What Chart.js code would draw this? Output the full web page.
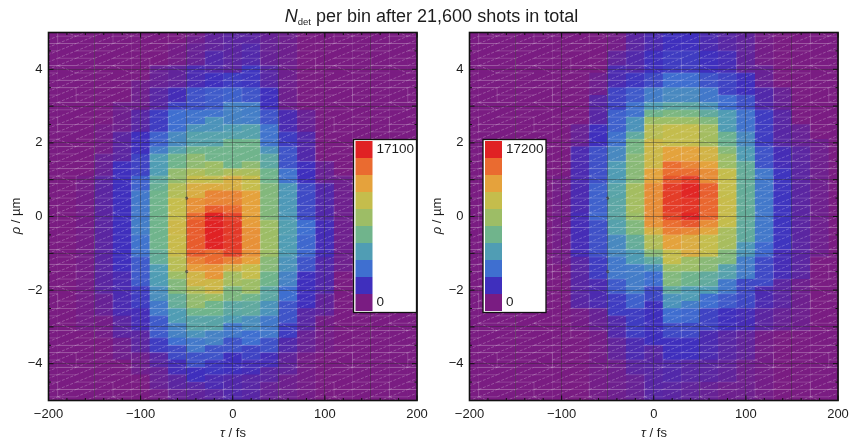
<!DOCTYPE html>
<html>
<head>
<meta charset="utf-8">
<title>Ndet per bin</title>
<script src="https://cdn.jsdelivr.net/npm/chart.js@4/dist/chart.umd.min.js"></script>
<style>
  body { margin: 0; background: #fff; font-family: "Liberation Sans", Arial, sans-serif; color: #1c1c1c; }
  #page { position: relative; width: 852px; height: 441px; overflow: hidden; }
  canvas { position: absolute; top: 0; }
  #chartLeft { left: 0; }
  #chartRight { left: 421px; }
  .lbl { position: absolute; white-space: nowrap; }
  #title { left: 0; width: 863px; top: 6px; text-align: center; font-size: 18px; line-height: 20px; }
  #title sub { font-size: 9.5px; line-height: 0; vertical-align: -3px; }
  .xlab { top: 426px; font-size: 13px; line-height: 14px; width: 60px; text-align: center; }
  .ylab { font-size: 13px; line-height: 14px; width: 60px; text-align: center; transform: rotate(-90deg); top: 209px; }
</style>
</head>
<body>
<div id="page">
  <canvas id="chartLeft" width="436" height="441"></canvas>
  <canvas id="chartRight" width="431" height="441"></canvas>
  <div class="lbl" id="title"><i>N</i><sub>det</sub> per bin after 21,600 shots in total</div>
  <div class="lbl xlab" style="left:203px"><i>τ</i> / fs</div>
  <div class="lbl xlab" style="left:624px"><i>τ</i> / fs</div>
  <div class="lbl ylab" style="left:-14px"><i>ρ</i> / µm</div>
  <div class="lbl ylab" style="left:407px"><i>ρ</i> / µm</div>
</div>
<script>
// bin centres
const tauValues = [-200,-180,-160,-140,-120,-100,-80,-60,-40,-20,0,20,40,60,80,100,120,140,160,180,200];
const rhoValues = [5,4.8,4.6,4.4,4.2,4,3.8,3.6,3.4,3.2,3,2.8,2.6,2.4,2.2,2,1.8,1.6,1.4,1.2,1,0.8,0.6,0.4,0.2,0,
  -0.2,-0.4,-0.6,-0.8,-1,-1.2,-1.4,-1.6,-1.8,-2,-2.2,-2.4,-2.6,-2.8,-3,-3.2,-3.4,-3.6,-3.8,-4,-4.2,-4.4,-4.6,-4.8,-5];

const xTickLabels = [-200,-100,0,100,200];
const yTickLabels = [-4,-2,0,2,4];

// colour bar swatches, lowest first
const barColors = ['#7a1c82','#3f2fbd','#3f6fd0','#509db4','#70b48c','#9dbd66','#c5bd4c','#e5a23c','#ea6b30','#e02224'];

const leftMax = 17100;
const rightMax = 17200;

// counts, in hundreds. One line per tau, top to bottom in rho
const leftCounts = [
  [0,0,0,0,0,0,0,0,0,0, 0,0,0,0,0,0,0,0,0,0, 0,0,0,0,0,0,0,0,0,0, 0,0,0,0,0,0,0,0,0,0, 0,0,0,0,0,0,0,0,0,0,0],
  [0,0,0,0,0,0,0,0,0,0, 0,0,0,0,0,0,0,0,0,0, 0,0,0,0,0,0,0,0,0,0, 0,0,0,0,0,0,0,0,0,0, 0,0,0,0,0,0,0,0,0,0,0],
  [0,0,0,0,0,0,0,0,0,0, 0,0,0,0,0,0,0,0,0,0, 2,2,2,2,2,2,2,2,2,2, 2,2,2,2,2,2,2,2,2,2, 2,0,0,0,0,0,0,0,0,0,0],
  [0,0,0,0,0,0,0,0,0,0, 0,0,0,2,2,2,2,6,6,6, 10,10,10,10,10,10,10,10,10,10, 10,10,10,10,10,10,6,6,6,2, 2,2,0,0,0,0,0,0,0,0,0],
  [0,0,0,0,0,0,0,0,0,0, 4,4,4,4,10,10,10,10,19,19, 19,19,19,19,19,19,19,19,19,19, 19,19,19,15,15,15,15,15,15,10, 10,10,4,4,4,0,0,0,0,0,0],
  [0,0,0,0,0,0,0,4,4,4, 4,11,11,11,19,19,19,25,25,25, 34,34,42,42,42,42,44,44,40,40, 40,32,32,32,32,23,23,23,17,17, 17,10,10,10,4,4,4,0,0,0,0],
  [0,0,0,0,0,6,6,6,11,11, 11,23,23,23,34,34,44,57,57,57, 67,72,76,76,76,76,76,76,76,76, 70,70,57,57,57,51,51,42,42,32, 32,32,23,23,11,11,6,6,6,2,2],
  [0,0,2,2,2,8,8,8,17,17, 25,38,38,38,49,49,61,76,76,91, 91,105,105,114,114,114,118,118,116,116, 116,108,108,95,84,84,70,70,57,57, 46,46,38,27,27,17,17,10,10,6,6],
  [2,4,6,6,6,15,15,15,29,29, 29,40,40,53,61,61,76,89,89,103, 114,125,125,139,139,152,156,156,156,156, 156,144,135,120,120,106,91,91,76,63, 63,53,42,42,29,29,19,19,11,8,8],
  [8,8,8,13,13,13,19,19,32,32, 32,40,53,53,61,61,76,76,95,95, 112,127,143,143,156,171,171,171,171,171, 152,152,137,137,118,118,95,76,76,63, 63,46,46,30,30,21,21,15,15,10,10],
  [10,10,10,10,10,10,23,23,34,34, 46,46,46,57,61,76,76,76,76,103, 124,124,143,143,152,162,165,165,165,165, 162,144,124,99,99,82,82,65,65,57, 42,42,30,30,19,19,19,13,13,13,13],
  [10,10,13,13,13,21,21,21,30,30, 44,44,44,61,61,76,76,76,89,101, 114,114,133,133,133,133,135,139,139,139, 139,133,114,114,95,95,76,67,67,51, 51,38,38,25,25,17,17,11,11,11,11],
  [6,6,6,6,6,11,11,11,19,19, 19,30,30,40,40,40,53,65,65,76, 76,84,84,84,84,84,95,95,95,95, 95,86,86,76,76,65,65,53,53,42, 42,42,29,29,17,17,10,10,6,6,6],
  [4,4,4,4,4,4,4,4,4,4, 4,15,15,15,23,23,30,30,30,40, 40,55,55,55,55,55,59,59,57,57, 57,53,53,46,46,38,38,30,30,30, 23,23,13,13,8,8,8,4,4,4,4],
  [0,0,0,0,0,0,0,0,0,0, 0,6,6,6,13,13,13,13,19,19, 19,27,27,27,27,27,38,38,36,36, 36,30,30,19,19,19,19,19,11,11, 11,6,6,6,2,2,2,2,2,2,2],
  [0,0,0,0,0,0,0,0,0,0, 0,0,0,0,0,0,0,0,6,6, 6,13,13,13,13,13,17,17,17,17, 17,13,13,13,13,13,8,8,8,2, 2,2,2,2,0,0,0,0,0,0,0],
  [0,0,0,0,0,0,0,0,0,0, 0,0,0,0,0,0,0,0,0,0, 4,4,4,4,4,4,4,4,4,4, 4,4,4,0,0,0,0,0,0,0, 0,0,0,0,0,0,0,0,0,0,0],
  [0,0,0,0,0,0,0,0,0,0, 0,0,0,0,0,0,0,0,0,0, 0,0,2,2,2,2,2,2,2,2, 2,0,0,0,0,0,0,0,0,0, 0,0,0,0,0,0,0,0,0,0,0],
  [0,0,0,0,0,0,0,0,0,0, 0,0,0,0,0,0,0,0,0,0, 0,0,0,0,0,0,0,0,0,0, 0,0,0,0,0,0,0,0,0,0, 0,0,0,0,0,0,0,0,0,0,0],
  [0,0,0,0,0,0,0,0,0,0, 0,0,0,0,0,0,0,0,0,0, 0,0,0,0,0,0,0,0,0,0, 0,0,0,0,0,0,0,0,0,0, 0,0,0,0,0,0,0,0,0,0,0],
  [0,0,0,0,0,0,0,0,0,0, 0,0,0,0,0,0,0,0,0,0, 0,0,0,0,0,0,0,0,0,0, 0,0,0,0,0,0,0,0,0,0, 0,0,0,0,0,0,0,0,0,0,0]
];

const rightCounts = [
  [0,0,0,0,0,0,0,0,0,0, 0,0,0,0,0,0,0,0,0,0, 0,0,0,0,0,0,0,0,0,0, 0,0,0,0,0,0,0,0,0,0, 0,0,0,0,0,0,0,0,0,0,0],
  [0,0,0,0,0,0,0,0,0,0, 0,0,0,0,0,0,0,0,0,0, 0,0,0,0,0,0,0,0,0,0, 0,0,0,0,0,0,0,0,0,0, 0,0,0,0,0,0,0,0,0,0,0],
  [0,0,0,0,0,0,0,0,0,0, 0,0,0,0,0,0,0,0,0,0, 0,0,0,0,0,0,0,0,0,0, 0,0,0,0,0,0,0,0,0,0, 0,0,0,0,0,0,0,0,0,0,0],
  [0,0,0,0,0,0,0,0,0,0, 0,0,0,0,0,0,0,0,0,0, 0,0,0,0,0,0,0,0,0,0, 0,0,0,0,0,0,0,0,0,0, 0,0,0,0,0,0,0,0,0,0,0],
  [0,0,0,0,0,0,0,0,0,0, 0,0,0,0,0,0,0,0,0,0, 0,0,0,0,0,0,0,0,0,0, 0,0,0,0,0,0,0,0,0,0, 0,0,0,0,0,0,0,0,0,0,0],
  [0,0,0,0,0,0,0,0,0,0, 0,0,0,0,0,0,0,0,0,0, 2,2,2,2,2,2,2,2,2,2, 2,2,0,0,0,0,0,0,0,0, 0,0,0,0,0,0,0,0,0,0,0],
  [0,0,0,0,0,0,0,0,0,0, 0,0,0,6,6,6,15,15,15,15, 15,15,15,15,15,17,17,17,17,17, 17,11,11,11,11,11,11,11,2,2, 2,0,0,0,0,0,0,0,0,0,0],
  [0,0,0,0,0,0,4,4,4,11, 11,11,11,19,19,19,29,29,29,29, 29,34,34,34,34,36,29,29,29,29, 29,23,23,23,15,15,15,15,6,6, 6,2,2,2,2,2,2,2,2,2,2],
  [2,2,2,8,8,15,15,15,25,25, 25,34,34,34,40,40,49,49,57,57, 57,63,63,65,65,65,61,61,49,49, 49,42,42,42,32,32,23,23,23,13, 13,13,8,8,8,4,4,4,4,4,4],
  [10,10,10,13,13,13,21,21,32,32, 40,40,53,53,67,80,80,87,87,87, 87,99,99,99,99,95,84,84,70,70, 57,57,44,44,44,44,34,34,23,23, 23,23,15,15,15,10,10,6,6,6,6],
  [15,15,15,19,19,19,27,27,44,44, 57,76,95,108,108,118,118,118,118,133, 133,141,141,141,141,141,139,124,105,105, 87,67,51,38,38,27,27,19,19,19, 19,19,19,11,11,11,11,11,11,11,11],
  [19,19,19,23,23,23,38,38,49,49, 65,82,95,114,114,114,133,133,152,152, 158,165,165,165,165,162,152,146,133,133, 114,114,95,84,84,67,53,53,38,38, 27,27,19,19,19,13,13,13,10,10,10],
  [19,19,19,23,23,23,38,38,49,49, 65,80,95,114,114,114,133,133,144,152, 165,171,171,167,167,171,158,143,127,127, 127,95,95,76,76,57,57,44,36,36, 27,27,19,19,19,11,11,11,8,8,8],
  [15,15,15,19,19,19,30,30,42,42, 53,68,84,99,99,99,122,122,133,141, 141,156,156,154,154,154,141,131,114,114, 114,87,87,68,68,57,38,38,25,25, 25,15,15,15,15,10,10,10,6,6,6],
  [11,11,11,17,17,17,25,25,25,38, 38,57,57,57,74,74,86,95,95,114, 114,114,114,116,116,116,114,101,101,101, 84,84,61,61,42,42,32,32,19,19, 19,11,11,11,11,8,8,8,4,4,4],
  [8,8,8,8,8,8,19,19,19,29, 29,40,40,40,49,49,57,57,70,70, 70,70,70,70,70,70,68,68,68,55, 55,44,44,44,27,27,27,27,17,17, 17,8,8,8,8,4,4,4,4,4,4],
  [2,2,2,2,2,6,6,6,13,13, 13,23,23,23,23,23,30,30,30,42, 42,42,42,42,42,42,42,42,42,36, 36,27,27,27,27,15,15,15,10,10, 10,2,2,2,2,2,2,2,2,2,2],
  [0,0,0,0,0,0,0,0,6,6, 6,11,11,11,11,11,17,17,17,21, 21,21,21,21,21,21,21,21,21,21, 17,17,17,17,10,10,10,10,6,6, 6,0,0,0,0,0,0,0,0,0,0],
  [0,0,0,0,0,0,0,0,0,0, 0,0,0,6,6,6,10,10,10,10, 10,10,10,10,10,10,10,10,10,10, 10,10,10,10,4,4,4,4,4,4, 4,0,0,0,0,0,0,0,0,0,0],
  [0,0,0,0,0,0,0,0,0,0, 0,0,0,0,0,4,4,4,4,4, 4,4,4,4,4,4,4,4,4,4, 4,0,0,0,0,0,0,0,0,0, 0,0,0,0,0,0,0,0,0,0,0],
  [0,0,0,0,0,0,0,0,0,0, 0,0,0,0,0,0,0,0,0,0, 0,0,0,0,0,0,0,0,0,0, 0,0,0,0,0,0,0,0,0,0, 0,0,0,0,0,0,0,0,0,0,0]
];

// the small dark specks on the -50 fs line
const speckTau = [-50,-50];
const speckRho = [0.5,-1.5];

function hexToRgb(h) {
  return [parseInt(h.slice(1,3),16), parseInt(h.slice(3,5),16), parseInt(h.slice(5,7),16)];
}

// linear blend along the colour bar
function colorFor(v, maxV) {
  const t = Math.min(1, v * 100 / maxV) * (barColors.length - 1);
  const i = Math.min(barColors.length - 2, Math.floor(t));
  const a = hexToRgb(barColors[i]), b = hexToRgb(barColors[i + 1]);
  const f = t - i;
  return `rgb(${a.map((c, k) => Math.round(c + (b[k] - c) * f)).join(',')})`;
}

// one floating bar per bin, a little oversize so no seams show
function buildCells(counts) {
  const cells = [];
  tauValues.forEach((tau, c) => {
    rhoValues.forEach((rho, r) => {
      cells.push({ x: tau, y: [rho - 0.104, rho + 0.104], v: counts[c][r] });
    });
  });
  return cells;
}

const fmt = v => String(v).replace('-', '\u2212');

// the triangulation mesh that shows through the density plot
const meshPlugin = {
  id: 'mesh',
  afterDatasetsDraw(chart) {
    const { ctx, chartArea: a, scales: { x, y } } = chart;
    ctx.save();
    ctx.beginPath();
    ctx.rect(a.left, a.top, a.right - a.left, a.bottom - a.top);
    ctx.clip();
    ctx.lineWidth = 1;
    tauValues.forEach((tau, c) => {
      rhoValues.forEach((rho, r) => {
        const x0 = x.getPixelForValue(tau - 10), x1 = x.getPixelForValue(tau + 10);
        const y0 = y.getPixelForValue(rho + 0.1), y1 = y.getPixelForValue(rho - 0.1);
        // diagonals, every row, flipped in a few places
        const flip = (c % 3 === 1) && (r % 5 === 0);
        ctx.setLineDash([3, 1.5]);
        ctx.strokeStyle = 'rgba(255,255,255,0.24)';
        ctx.beginPath();
        ctx.moveTo(x0, flip ? y0 : y1);
        ctx.lineTo(x1, flip ? y1 : y0);
        ctx.stroke();
        ctx.setLineDash([]);
        ctx.strokeStyle = 'rgba(255,255,255,0.17)';
        if ((r + c) % 3 !== 0) {
          ctx.beginPath();
          ctx.moveTo(x0, y1);
          ctx.lineTo(x1, y1);
          ctx.stroke();
        }
        if ((c + (r >> 2)) % 3 === 0 && r % 4 < 2) {
          ctx.beginPath();
          ctx.moveTo(x1, y0);
          ctx.lineTo(x1, y1);
          ctx.stroke();
        }
      });
    });
    ctx.restore();
  }
};

// frame and inward ticks on all four sides, colour bar inside the plot
const framePlugin = {
  id: 'frame',
  afterDraw(chart, args, opts) {
    const { ctx, chartArea: a, scales: { x, y } } = chart;
    ctx.save();
    ctx.strokeStyle = '#111';
    ctx.lineWidth = 1;
    ctx.beginPath();
    for (let t = -200; t <= 200; t += 20) {
      const px = x.getPixelForValue(t), len = t % 100 === 0 ? 5 : 2.5;
      ctx.moveTo(px, a.top); ctx.lineTo(px, a.top + len);
      ctx.moveTo(px, a.bottom); ctx.lineTo(px, a.bottom - len);
    }
    for (let k = -10; k <= 10; k++) {
      const py = y.getPixelForValue(k / 2), len = k % 2 === 0 ? 5 : 2.5;
      ctx.moveTo(a.left, py); ctx.lineTo(a.left + len, py);
      ctx.moveTo(a.right, py); ctx.lineTo(a.right - len, py);
    }
    ctx.stroke();
    ctx.lineWidth = 1.6;
    ctx.strokeRect(a.left, a.top, a.right - a.left, a.bottom - a.top);

    // colour bar
    const bx = opts.boxLeft, by = 139.5, bw = 63, bh = 173, sw = 17, sh = 17;
    ctx.fillStyle = '#fff';
    ctx.fillRect(bx, by, bw, bh);
    ctx.lineWidth = 1.3;
    ctx.strokeRect(bx, by, bw, bh);
    barColors.forEach((col, i) => {
      ctx.fillStyle = col;
      ctx.fillRect(bx + 2, by + 1.5 + (9 - i) * sh, sw, sh);
    });
    ctx.fillStyle = '#1c1c1c';
    ctx.font = '13.5px "Liberation Sans"';
    ctx.textBaseline = 'middle';
    ctx.textAlign = 'left';
    ctx.fillText(String(opts.maxLabel), bx + 23, by + 10);
    ctx.fillText('0', bx + 23, by + 162.5);
    ctx.restore();
  }
};

function makeChart(id, counts, maxV, boxLeft, rightPad) {
  const cells = buildCells(counts);
  return new Chart(document.getElementById(id), {
    data: {
      datasets: [
        {
          type: 'scatter',
          data: speckTau.map((t, i) => ({ x: t, y: speckRho[i] })),
          pointRadius: 1.6,
          pointBackgroundColor: 'rgba(40,40,40,0.7)',
          pointBorderWidth: 0,
          order: 0
        },
        {
          type: 'bar',
          data: cells,
          backgroundColor: cells.map(c => colorFor(c.v, maxV)),
          borderWidth: 0,
          grouped: false,
          barPercentage: 1.02,
          categoryPercentage: 1,
          order: 1
        }
      ]
    },
    options: {
      responsive: false,
      animation: false,
      layout: { padding: { top: 32.5, right: rightPad } },
      plugins: {
        legend: { display: false },
        tooltip: { enabled: false },
        frame: { boxLeft: boxLeft, maxLabel: maxV }
      },
      scales: {
        x: {
          type: 'linear',
          min: -200, max: 200,
          offset: false,
          afterFit: s => { s.height = 40.5; s.paddingLeft = 0; s.paddingRight = 0; },
          grid: { offset: false, z: 1, color: 'rgba(45,45,45,0.42)', drawTicks: false },
          border: { display: false },
          ticks: {
            stepSize: 50, autoSkip: false, maxRotation: 0, padding: 6,
            color: '#1c1c1c', font: { family: '"Liberation Sans"', size: 13 },
            callback: v => xTickLabels.includes(v) ? fmt(v) : ''
          }
        },
        y: {
          type: 'linear',
          min: -5, max: 5,
          beginAtZero: false,
          afterFit: s => { s.width = 48.5; s.paddingTop = 0; s.paddingBottom = 0; },
          grid: { z: 1, color: 'rgba(45,45,45,0.42)', drawTicks: false },
          border: { display: false },
          ticks: {
            stepSize: 1, autoSkip: false, padding: 6,
            color: '#1c1c1c', font: { family: '"Liberation Sans"', size: 13 },
            callback: v => yTickLabels.includes(v) ? fmt(v) : ''
          }
        }
      }
    },
    plugins: [meshPlugin, framePlugin]
  });
}

makeChart('chartLeft', leftCounts, leftMax, 353.5, 19);
makeChart('chartRight', rightCounts, rightMax, 62, 14);
</script>
</body>
</html>
